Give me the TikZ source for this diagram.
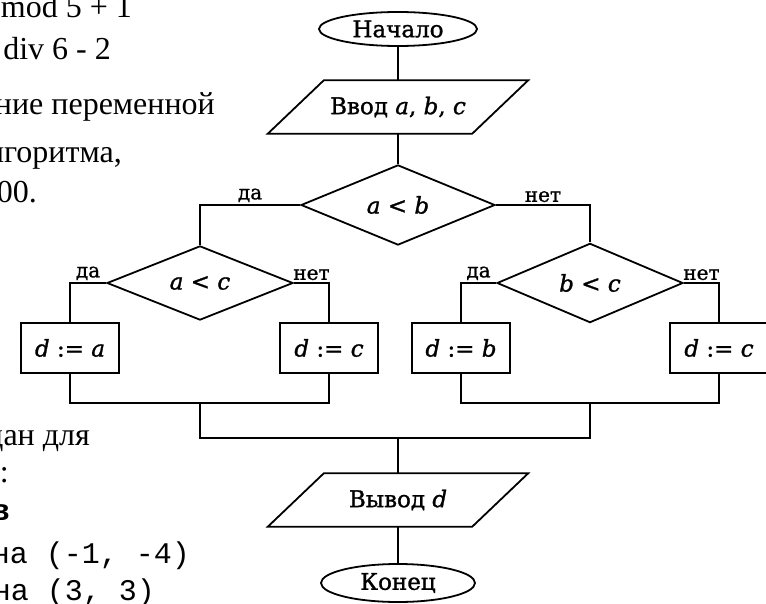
\documentclass[tikz,border=0pt]{standalone}
\usepackage{fontspec}
\setmainfont{Liberation Serif}
\setmonofont{Liberation Mono}
\newfontfamily\chartfont[FakeBold=1.2]{DejaVu Serif}
\usetikzlibrary{shapes.geometric}
\tikzset{flow line/.style={draw=black, line width=1.8pt}}
\tikzset{chart text/.style={font=\chartfont\fontsize{23}{23}\selectfont}}
\tikzset{terminal/.style={draw=black, line width=1.8pt, ellipse, minimum width=158pt, minimum height=34pt, inner sep=0pt, chart text}}
\tikzset{io block/.style={rectangle, minimum width=204pt, minimum height=53pt, inner sep=0pt, chart text}}
\tikzset{decision/.style={draw=black, line width=1.8pt, diamond, minimum width=194pt, minimum height=70pt, inner sep=0pt, chart text}}
\tikzset{process/.style={draw=black, line width=1.8pt, rectangle, minimum width=98pt, minimum height=50pt, inner sep=0pt, chart text}}
\tikzset{branch label/.style={above, inner sep=2pt, font=\chartfont\fontsize{20}{20}\selectfont}}
\tikzset{page text/.style={anchor=base east, inner sep=0pt, font=\fontsize{32}{32}\selectfont}}
\tikzset{page code/.style={anchor=base east, inner sep=0pt, font=\ttfamily\fontsize{30}{30}\selectfont}}
% slanted outline round an io block
\newcommand\slantbox[1]{\draw[flow line] ([xshift=-28pt]#1.south west) -- ([xshift=-28pt]#1.south east) -- ([xshift=28pt]#1.north east) -- ([xshift=28pt]#1.north west) -- cycle;}

\begin{document}
\begin{tikzpicture}[x=1pt, y=-1pt]
\useasboundingbox (0,0) rectangle (766,604);
\clip (0,0) rectangle (766,604);
% cut-off text of the page
\node[page text] (line1) at (132,18) {mod 5 + 1};
\node[page text] (line2) at (111,60) {div 6 - 2};
\node[page text] (line3) at (215,115) {ние переменной};
\node[page text] (line4) at (122,163) {лгоритма,};
\node[page text] (line5) at (37,203) {00.};
\node[page text] (line6) at (90,445) {дан для};
\node[page text] (line7) at (9,482) {:};
\node[page code, font=\ttfamily\bfseries\fontsize{30}{30}\selectfont] (line8) at (10,520) {в};
\node[page code] (line9) at (190,563) {на (-1, -4)};
\node[page code] (line10) at (155,600) {на (3, 3)};
% flowchart
\node[terminal] (start) at (398,29) {Начало};
\node[io block] (input) at (398,107) {Ввод \textit{a}, \textit{b}, \textit{c}};
\slantbox{input}
\node[decision] (ab) at (398,205) {\textit{a} < \textit{b}};
\node[decision, minimum width=186pt] (ac) at (200,283) {\textit{a} < \textit{c}};
\node[decision, minimum width=186pt] (bc) at (590,283) {\textit{b} < \textit{c}};
\node[process] (da) at (70,348) {\textit{d} := \textit{a}};
\node[process] (dc1) at (329,348) {\textit{d} := \textit{c}};
\node[process] (db) at (461,348) {\textit{d} := \textit{b}};
\node[process] (dc2) at (719,348) {\textit{d} := \textit{c}};
\coordinate (join left) at (200,403);
\coordinate (join right) at (590,403);
\coordinate (join all) at (398,438);
\node[io block] (output) at (398,500) {Вывод \textit{d}};
\slantbox{output}
\node[terminal, minimum width=154pt, minimum height=38pt] (stop) at (398,583) {Конец};
\draw[flow line] (start) -- (input);
\draw[flow line] (input) -- (ab);
\draw[flow line] (ab.west) -| node[branch label, pos=0.25] {да} (ac.north);
\draw[flow line] (ab.east) -| node[branch label, pos=0.25] {нет} (bc.north);
\draw[flow line] (ac.west) -| node[branch label, pos=0.25] {да} (da.north);
\draw[flow line] (ac.east) -| node[branch label, pos=0.25] {нет} (dc1.north);
\draw[flow line] (bc.west) -| node[branch label, pos=0.25] {да} (db.north);
\draw[flow line] (bc.east) -| node[branch label, pos=0.25] {нет} (dc2.north);
\draw[flow line] (da.south) |- (join left) -| (dc1.south);
\draw[flow line] (db.south) |- (join right) -| (dc2.south);
\draw[flow line] (join left) |- (join all) -| (join right);
\draw[flow line] (join all) -- (output);
\draw[flow line] (output) -- (stop);
\end{tikzpicture}
\end{document}
